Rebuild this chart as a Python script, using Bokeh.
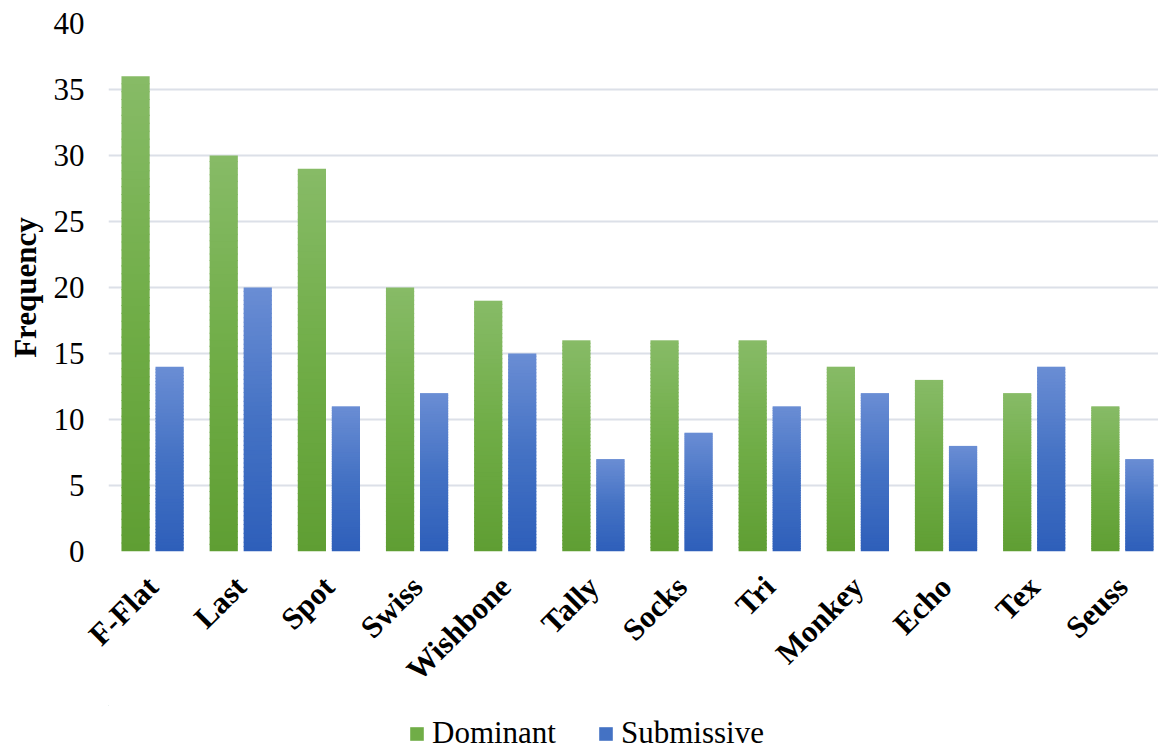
import math
from bokeh.plotting import figure
from bokeh.layouts import column
from bokeh.models import (ColumnDataSource, Range1d, FixedTicker, Legend, LegendItem)
from bokeh.embed import file_html
from bokeh.resources import INLINE

# Tail-style categories and how often each was observed
categories = ["F-Flat", "Last", "Spot", "Swiss", "Wishbone", "Tally",
              "Socks", "Tri", "Monkey", "Echo", "Tex", "Seuss"]
dominant = [36, 30, 29, 20, 19, 16, 16, 16, 14, 13, 12, 11]
submissive = [14, 20, 11, 12, 15, 7, 9, 11, 12, 8, 14, 7]
y_ticks = [0, 5, 10, 15, 20, 25, 30, 35, 40]

# Vertical gradient stops (top, middle, bottom) for each series
green_stops = ["#87BB67", "#70AD47", "#5F9E33"]
blue_stops = ["#6A8DD4", "#4472C4", "#2E5FBA"]

SLICES = 60
BAR_W = 0.32
OFFSET = 0.193
OVERLAP = 0.08  # slices overlap slightly so no hairline seams show

FONT = "Liberation Serif"


def hex_to_rgb(h):
    h = h.lstrip("#")
    return tuple(int(h[i:i + 2], 16) for i in (0, 2, 4))


def blend(stops, t):
    # t = 0 at the top of a bar, 1 at its base
    top, mid, bot = (hex_to_rgb(s) for s in stops)
    if t <= 0.5:
        a, b, f = top, mid, t / 0.5
    else:
        a, b, f = mid, bot, (t - 0.5) / 0.5
    c = [round(a[k] + (b[k] - a[k]) * f) for k in range(3)]
    return "#%02x%02x%02x" % tuple(c)


def gradient_source(values, shift, stops):
    xs, bottoms, tops, colors = [], [], [], []
    for i, v in enumerate(values):
        for k in range(SLICES):
            lo = v * k / SLICES
            hi = min(v, v * (k + 1) / SLICES + OVERLAP)
            t = 1 - (k + 0.5) / SLICES
            xs.append(i + 0.5 + shift)
            bottoms.append(lo)
            tops.append(hi)
            colors.append(blend(stops, t))
    return ColumnDataSource(dict(x=xs, bottom=bottoms, top=tops, color=colors))


p = figure(width=1158, height=705, output_backend="svg", toolbar_location=None,
           x_range=Range1d(0, 11.91), y_range=Range1d(0, 40),
           min_border_left=108, min_border_right=0, min_border_top=23,
           min_border_bottom=154)
p.outline_line_color = None
p.background_fill_color = "white"
p.border_fill_color = "white"

for vals, shift, stops in ((dominant, -OFFSET, green_stops),
                           (submissive, OFFSET, blue_stops)):
    src = gradient_source(vals, shift, stops)
    p.vbar(x="x", bottom="bottom", top="top", width=BAR_W, source=src,
           fill_color="color", line_color=None)

# Y axis
p.yaxis.ticker = FixedTicker(ticks=y_ticks)
p.yaxis.axis_line_color = None
p.yaxis.major_tick_line_color = None
p.yaxis.major_tick_out = 0
p.yaxis.major_tick_in = 0
p.yaxis.minor_tick_line_color = None
p.yaxis.major_label_text_font = FONT
p.yaxis.major_label_text_font_size = "31px"
p.yaxis.major_label_text_color = "#000000"
p.yaxis.major_label_standoff = 24
p.yaxis.axis_label = "Frequency"
p.yaxis.axis_label_text_font = FONT
p.yaxis.axis_label_text_font_style = "bold"
p.yaxis.axis_label_text_font_size = "31px"
p.yaxis.axis_label_text_color = "#000000"
p.yaxis.axis_label_standoff = 8

# X axis with category names at bar-group centres
centres = [i + 0.5 for i in range(len(categories))]
p.xaxis.ticker = FixedTicker(ticks=centres)
p.xaxis.major_label_overrides = {c: name for c, name in zip(centres, categories)}
p.xaxis.axis_line_color = None
p.xaxis.major_tick_line_color = None
p.xaxis.major_tick_out = 0
p.xaxis.major_tick_in = 0
p.xaxis.minor_tick_line_color = None
p.xaxis.major_label_orientation = math.pi / 4
p.xaxis.major_label_text_font = FONT
p.xaxis.major_label_text_font_style = "bold"
p.xaxis.major_label_text_font_size = "31px"
p.xaxis.major_label_text_color = "#000000"
p.xaxis.major_label_standoff = 30

p.xgrid.grid_line_color = None
p.ygrid.grid_line_color = "#DCE0E8"
p.ygrid.grid_line_width = 2

# Legend strip along the bottom (no axes, no grid)
leg = figure(width=1158, height=44, output_backend="svg", toolbar_location=None,
             x_range=Range1d(0, 1), y_range=Range1d(0, 1),
             x_axis_type=None, y_axis_type=None,
             min_border=0, min_border_left=0, min_border_right=0,
             min_border_top=0, min_border_bottom=0)
leg.outline_line_color = None
leg.background_fill_color = "white"
leg.border_fill_color = "white"
# swatch renderers sit wholly outside the visible ranges; only their legend glyphs show
dom_r = leg.vbar(x=[-5], bottom=[5], top=[6], width=0.1,
                 fill_color=green_stops[1], line_color=None)
sub_r = leg.vbar(x=[-5], bottom=[5], top=[6], width=0.1,
                 fill_color=blue_stops[1], line_color=None)
legend = Legend(items=[LegendItem(label="Dominant", renderers=[dom_r]),
                       LegendItem(label="Submissive", renderers=[sub_r])],
                orientation="horizontal", location=(300, -2),
                glyph_width=17, glyph_height=17, label_standoff=7, spacing=41,
                padding=0, margin=0, border_line_color=None,
                background_fill_alpha=0,
                label_text_font=FONT, label_text_font_size="31px",
                label_text_color="#000000")
leg.add_layout(legend, "center")

open("out.html", "w").write(file_html(column(p, leg, spacing=0), INLINE))
